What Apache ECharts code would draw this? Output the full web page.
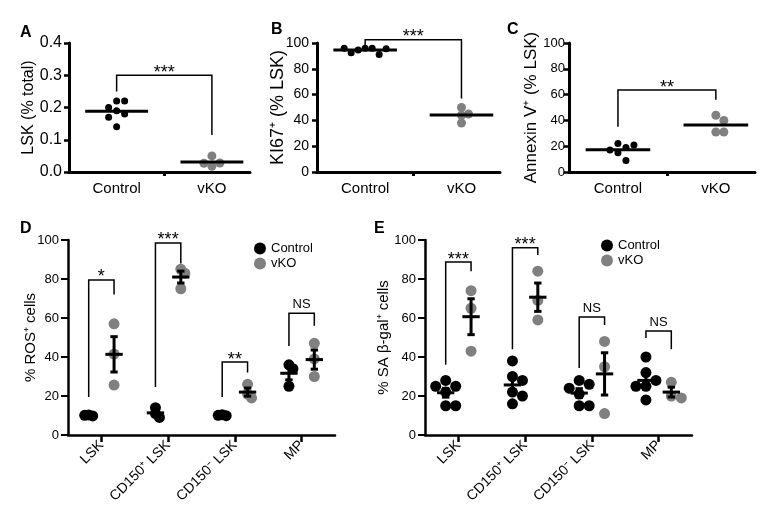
<!DOCTYPE html>
<html><head><meta charset="utf-8">
<script src="https://cdn.jsdelivr.net/npm/echarts@6/dist/echarts.min.js"></script>
<style>html,body{margin:0;padding:0;background:#fff}#c{width:767px;height:515px}</style>
</head><body><div id="c"></div>
<script>
// ---------------- DATA ----------------
const topCategories = ['Control', 'vKO'];
const bottomCategories = ['LSK', 'CD150⁺ LSK', 'CD150⁻ LSK', 'MP'];
const groupNames = ['Control', 'vKO'];

// A: LSK (% total)
const lskControl = [0.22, 0.22, 0.20, 0.19, 0.18, 0.17, 0.14];
const lskVKO = [0.05, 0.028, 0.027, 0.018];
// B: KI67+ (% LSK)
const ki67Control = [96, 96, 94.5, 91, 92.5, 95.5, 96];
const ki67VKO = [50, 45, 44, 38];
// C: Annexin V+ (% LSK)
const annexinControl = [22, 19, 15, 17, 21, 9];
const annexinVKO = [44, 40, 31, 31];
// D: % ROS+ cells (per bottom category)
const rosControl = [[10.3, 9.8, 10.1], [14, 11, 9], [10.4, 9.9, 10.1], [36, 34, 25]];
const rosVKO = [[57, 41.5, 25.6], [85, 83, 75], [26, 21, 19], [47, 39, 30]];
// E: % SA beta-gal+ cells
const sagalControl = [[28, 25, 25, 22, 15, 15], [38, 30, 28, 22, 20, 16], [28, 26, 24, 21, 15, 15], [40, 32, 28, 25, 25, 18]];
const sagalVKO = [[74, 65, 43], [84, 69, 59], [48, 35, 11], [27, 20, 19]];

// y tick labels
const yTicksA = [0, 0.1, 0.2, 0.3, 0.4];
const yTicksPct = [0, 20, 40, 60, 80, 100];

// significance brackets: [left leg bottom, top, right leg bottom] (data units)
const bracketsA = [[0.25, 0.30, 0.115]];
const sigA = ['***'];
const bracketsB = [[95, 102.5, 57]];
const sigB = ['***'];
const bracketsC = [[35, 63.5, 56]];
const sigC = ['**'];
const bracketsD = [[19.5, 79.5, 72], [24.6, 98.5, 88], [19.5, 37.4, 32], [45.6, 62.5, 56]];
const sigD = ['*', '***', '**', 'NS'];
const bracketsE = [[36, 88.7, 84], [44, 96, 92.3], [34.4, 60.5, 56.4], [49.7, 53.3, 44]];
const sigE = ['***', '***', 'NS', 'NS'];

// ---------------- LAYOUT / STYLE ----------------
const FONT = '"Liberation Sans", Arial, Helvetica, sans-serif';
const BLACK = '#000000', GRAY = '#808080';
const grids = [
  {left: 69, top: 43, width: 181, height: 129},
  {left: 317, top: 43, width: 183, height: 129},
  {left: 569, top: 43, width: 186, height: 129},
  {left: 68, top: 240, width: 267, height: 195},
  {left: 425, top: 240, width: 267, height: 195}
];
const xRanges = [[-0.5, 1.4], [-0.5, 1.4], [-0.5, 1.4], [-0.5, 3.5], [-0.5, 3.5]];
const swarmGap = [8, 7, 8, 4, 10];
const bottomOffset = 0.19;

function mean(a) { return a.reduce((s, v) => s + v, 0) / a.length; }
function sem(a) {
  const m = mean(a);
  const v = a.reduce((s, x) => s + (x - m) * (x - m), 0) / (a.length - 1);
  return Math.sqrt(v) / Math.sqrt(a.length);
}
// beeswarm layout in pixel space, returned in data units
function swarm(values, center, gi, yMax, gap) {
  const g = grids[gi];
  const pxX = g.width / (xRanges[gi][1] - xRanges[gi][0]);
  const pxY = g.height / yMax;
  const placed = [];
  return values.map(v => {
    const py = v * pxY;
    let off = 0;
    for (let n = 0; n < 40; n++) {
      off = n === 0 ? 0 : (n % 2 ? 1 : -1) * Math.ceil(n / 2) * gap;
      if (placed.every(p => Math.hypot(p[0] - off, p[1] - py) >= gap)) break;
    }
    placed.push([off, py]);
    return [center + off / pxX, v];
  });
}

const series = [];
function addPanel(gi, yMax, ctrlGroups, vkoGroups, xsC, xsV, sizeC, sizeV, brackets, sigs, isBottom) {
  const ctrlData = [], vkoData = [], meanData = [];
  ctrlGroups.forEach((vals, i) => {
    swarm(vals, xsC[i], gi, yMax, swarmGap[gi]).forEach(p => ctrlData.push(p));
    meanData.push([xsC[i], mean(vals), sem(vals)]);
  });
  vkoGroups.forEach((vals, i) => {
    swarm(vals, xsV[i], gi, yMax, swarmGap[gi]).forEach(p => vkoData.push(p));
    meanData.push([xsV[i], mean(vals), sem(vals)]);
  });
  series.push({type: 'scatter', name: groupNames[0], xAxisIndex: gi, yAxisIndex: gi, data: ctrlData,
    symbolSize: sizeC, itemStyle: {color: BLACK, opacity: 1}, silent: true, z: 2});
  series.push({type: 'scatter', name: groupNames[1], xAxisIndex: gi, yAxisIndex: gi, data: vkoData,
    symbolSize: sizeV, itemStyle: {color: GRAY, opacity: 1}, silent: true, z: 2});
  const hw = isBottom ? 0.13 : 0.33, cw = 0.055;
  series.push({type: 'custom', xAxisIndex: gi, yAxisIndex: gi, data: meanData, silent: true, z: 3, clip: false,
    renderItem(params, api) {
      const x = api.value(0), m = api.value(1), s = api.value(2);
      const a = api.coord([x - hw, m]), b = api.coord([x + hw, m]);
      const st = {stroke: BLACK, lineWidth: 3};
      const ch = [{type: 'line', shape: {x1: a[0], y1: a[1], x2: b[0], y2: b[1]}, style: st}];
      if (isBottom) {
        const t = api.coord([x, m + s]), u = api.coord([x, m - s]);
        const tl = api.coord([x - cw, m + s]), tr = api.coord([x + cw, m + s]);
        const ul = api.coord([x - cw, m - s]), ur = api.coord([x + cw, m - s]);
        ch.push({type: 'line', shape: {x1: t[0], y1: t[1], x2: u[0], y2: u[1]}, style: st});
        ch.push({type: 'line', shape: {x1: tl[0], y1: tl[1], x2: tr[0], y2: tr[1]}, style: st});
        ch.push({type: 'line', shape: {x1: ul[0], y1: ul[1], x2: ur[0], y2: ur[1]}, style: st});
      }
      return {type: 'group', children: ch};
    }});
  const bData = brackets.map((b, i) => [xsC[i], b[0], b[1], xsV[i], b[2]]);
  series.push({type: 'custom', xAxisIndex: gi, yAxisIndex: gi, data: bData, silent: true, z: 4, clip: false,
    renderItem(params, api) {
      const p1 = api.coord([api.value(0), api.value(1)]);
      const p2 = api.coord([api.value(0), api.value(2)]);
      const p3 = api.coord([api.value(3), api.value(2)]);
      const p4 = api.coord([api.value(3), api.value(4)]);
      const label = sigs[params.dataIndex];
      const star = label.indexOf('*') >= 0;
      return {type: 'group', children: [
        {type: 'polyline', shape: {points: [p1, p2, p3, p4]}, style: {stroke: BLACK, lineWidth: 1.5, fill: null}},
        {type: 'text', x: (p2[0] + p3[0]) / 2, y: p2[1] - (star ? 2.5 : 9),
          style: {text: label, fill: BLACK, font: (star ? '18px ' : '13px ') + FONT, align: 'center', verticalAlign: 'middle'}}
      ]};
    }});
}

addPanel(0, 0.4, [lskControl], [lskVKO], [0], [1], 7, 9, bracketsA, sigA, false);
addPanel(1, 100, [ki67Control], [ki67VKO], [0], [1], 7, 9, bracketsB, sigB, false);
addPanel(2, 100, [annexinControl], [annexinVKO], [0], [1], 7, 9, bracketsC, sigC, false);
const xsBC = bottomCategories.map((c, i) => i - bottomOffset);
const xsBV = bottomCategories.map((c, i) => i + bottomOffset);
addPanel(3, 100, rosControl, rosVKO, xsBC, xsBV, 11, 11, bracketsD, sigD, true);
addPanel(4, 100, sagalControl, sagalVKO, xsBC, xsBV, 11, 11, bracketsE, sigE, true);

const yNames = ['LSK (% total)', 'KI67⁺ (% LSK)', 'Annexin V⁺ (% LSK)', '% ROS⁺ cells', '% SA β-gal⁺ cells'];
const yLabelFont = [16, 14, 13, 13, 13];
const yLabelMargin = [7, 8, 4, 9, 9];
const yNameGap = [32, 30, 29, 29.5, 33.5];
const yNameFont = [16, 18, 17, 15, 15];

const xAxes = grids.map((g, gi) => {
  const bottom = gi >= 3;
  return {
    gridIndex: gi, type: 'value', min: xRanges[gi][0], max: xRanges[gi][1],
    splitLine: {show: false},
    axisLine: {show: true, onZero: false, lineStyle: {color: BLACK, width: bottom ? 2.5 : 3}},
    axisTick: {show: true, inside: false, length: bottom ? 7 : 4,
      customValues: bottom ? bottomCategories.map((c, i) => i) : [0.5],
      lineStyle: {color: BLACK, width: bottom ? 2.5 : 3}},
    axisLabel: {
      customValues: bottom ? bottomCategories.map((c, i) => i) : topCategories.map((c, i) => i),
      formatter: v => (bottom ? bottomCategories : topCategories)[Math.round(v)],
      rotate: bottom ? 45 : 0, margin: bottom ? 8 : 9,
      fontSize: bottom ? 14 : 15, color: BLACK, fontFamily: FONT
    }
  };
});
const yAxes = grids.map((g, gi) => {
  const bottom = gi >= 3;
  const ticks = gi === 0 ? yTicksA : yTicksPct;
  return {
    gridIndex: gi, type: 'value', min: ticks[0], max: ticks[ticks.length - 1], interval: ticks[1] - ticks[0],
    splitLine: {show: false},
    axisLine: {show: true, onZero: false, lineStyle: {color: BLACK, width: bottom ? 2.5 : 3}},
    axisTick: {show: true, length: bottom ? 7 : 5, lineStyle: {color: BLACK, width: bottom ? 2 : 2.5}},
    axisLabel: {formatter: v => gi === 0 ? v.toFixed(1) : String(v), fontSize: yLabelFont[gi],
      margin: yLabelMargin[gi], color: BLACK, fontFamily: FONT},
    name: yNames[gi], nameLocation: 'middle', nameGap: yNameGap[gi], nameMoveOverlap: false,
    nameTextStyle: {fontSize: yNameFont[gi], color: BLACK, fontFamily: FONT}
  };
});

const letters = [['A', 20, 25], ['B', 271, 22], ['C', 507, 22], ['D', 20, 221], ['E', 374, 221]];
const legendBase = {orient: 'vertical', itemWidth: 12, itemHeight: 12, itemGap: 2, icon: 'circle', padding: 0,
  data: groupNames, selectedMode: false, textStyle: {fontSize: 13, color: BLACK, fontFamily: FONT}};

const chart = echarts.init(document.getElementById('c'), null, {renderer: 'canvas'});
chart.setOption({
  animation: false,
  backgroundColor: '#ffffff',
  grid: grids.map(g => Object.assign({containLabel: false}, g)),
  xAxis: xAxes,
  yAxis: yAxes,
  legend: [Object.assign({left: 254, top: 242}, legendBase), Object.assign({left: 601, top: 239}, legendBase)],
  graphic: letters.map(l => ({type: 'text', left: l[1], top: l[2],
    style: {text: l[0], font: 'bold 16px ' + FONT, fill: BLACK}})),
  series: series
});
</script></body></html>
